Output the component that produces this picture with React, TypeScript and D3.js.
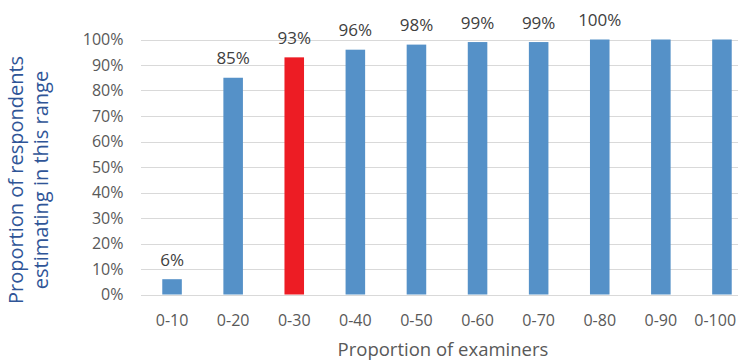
import React from "react";
import * as d3 from "d3";

const categories = ["0-10", "0-20", "0-30", "0-40", "0-50", "0-60", "0-70", "0-80", "0-90", "0-100"];
const values = [6, 85, 93, 96, 98, 99, 99, 100, 100, 100];
const valueLabels = ["6%", "85%", "93%", "96%", "98%", "99%", "99%", "100%", "", ""];
const highlighted = ["0-30"];
const yTicks = [0, 10, 20, 30, 40, 50, 60, 70, 80, 90, 100];

const W = 738;
const H = 360;
const FONT = "'Open Sans', sans-serif";

export default function App() {
  const x = d3.scaleBand<string>().domain(categories).range([141.5, 752.5]).paddingInner(0.68).paddingOuter(0.34);
  const y = d3.scaleLinear().domain([0, 100]).range([294.5, 39.5]);
  const tickFont = 16;
  // category labels are kept inside the visible area on the right
  const labelHalf = (s: string) => (s.length * 0.47 * tickFont) / 2;

  return (
    <svg
      width={W}
      height={H}
      style={{ position: "absolute", left: 0, top: 0, background: "#fff", display: "block" }}
      fontFamily={FONT}
    >
      {yTicks.map((t) => (
        <g key={t}>
          <line x1={141} x2={W} y1={Math.round(y(t)) + 0.5} y2={Math.round(y(t)) + 0.5} stroke="#d9d9d9" strokeWidth={1} />
          <text x={123.5} y={y(t)} dy="0.35em" textAnchor="end" fontSize={tickFont} fill="#595959">
            {t}%
          </text>
        </g>
      ))}
      {categories.map((c, i) => {
        const bx = x(c)!;
        const bw = x.bandwidth();
        const cx = bx + bw / 2;
        const lx = Math.min(cx, 734 - labelHalf(c));
        return (
          <g key={c}>
            <rect
              x={bx}
              y={y(values[i])}
              width={bw}
              height={y(0) - y(values[i])}
              fill={highlighted.includes(c) ? "#ed1c24" : "#5591c8"}
            />
            {valueLabels[i] && (
              <text x={cx} y={y(values[i]) - 13.5} textAnchor="middle" fontSize={17} fill="#404040">
                {valueLabels[i]}
              </text>
            )}
            <text x={lx} y={326} textAnchor="middle" fontSize={tickFont} fill="#595959">
              {c}
            </text>
          </g>
        );
      })}
      <text x={443} y={356} textAnchor="middle" fontSize={18.5} fill="#595959">
        Proportion of examiners
      </text>
      <g transform="translate(16,180) rotate(-90)">
        <text x={0} y={0} dy="0.35em" textAnchor="middle" fontSize={20} fill="#2f5597">
          Proportion of respondents
        </text>
        <text x={0} y={25} dy="0.35em" textAnchor="middle" fontSize={20} fill="#2f5597">
          estimating in this range
        </text>
      </g>
    </svg>
  );
}
